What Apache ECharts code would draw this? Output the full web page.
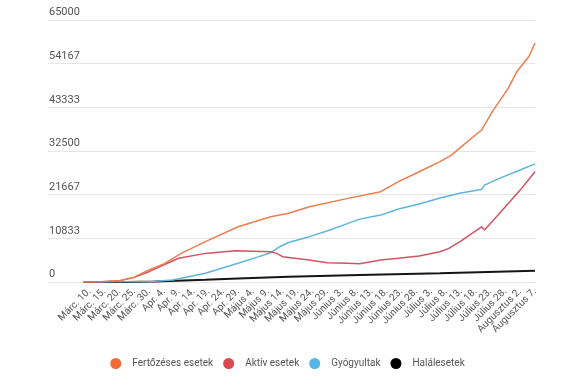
<!DOCTYPE html>
<html>
<head>
<meta charset="utf-8">
<script src="https://cdn.jsdelivr.net/npm/echarts@6/dist/echarts.min.js"></script>
<style>html,body{margin:0;padding:0;background:#fff}#c{width:575px;height:387px}</style>
</head>
<body>
<div id="c"></div>
<script>
// Month table used to build the daily category labels (Feb 25 – Aug 7)
const months = [['Febr.', 25, 29], ['Márc.', 1, 31], ['Apr.', 1, 30], ['Május', 1, 31], ['Június', 1, 30], ['Július', 1, 31], ['Augusztus', 1, 7]];
const categories = [];
months.forEach(([m, a, b]) => { for (let d = a; d <= b; d++) categories.push(m + ' ' + d + '.'); });

const yTicks = [0, 10833, 21667, 32500, 43333, 54167, 65000];
const seriesNames = ['Fertőzéses esetek', 'Aktív esetek', 'Gyógyultak', 'Halálesetek'];

const totalCases = [
  ['Márc. 8.', 0], ['Márc. 14.', 60], ['Márc. 20.', 300], ['Márc. 25.', 1200], ['Márc. 30.', 2980], ['Apr. 4.', 4500],
  ['Apr. 10.', 7150], ['Apr. 18.', 10000], ['Apr. 29.', 13700], ['Május 10.', 16200], ['Május 16.', 17050],
  ['Május 23.', 18650], ['Június 5.', 20750], ['Június 16.', 22400], ['Június 22.', 24900], ['Június 29.', 27350],
  ['Július 6.', 29850], ['Július 10.', 31550], ['Július 13.', 33450], ['Július 20.', 37700], ['Július 24.', 42700],
  ['Július 26.', 44800], ['Július 29.', 48100], ['Augusztus 1.', 52300], ['Augusztus 5.', 56000], ['Augusztus 7.', 59300]
];
const activeCases = [
  ['Márc. 8.', 0], ['Márc. 14.', 60], ['Márc. 20.', 280], ['Márc. 25.', 1150], ['Márc. 30.', 2560], ['Apr. 9.', 5880],
  ['Apr. 18.', 7100], ['Apr. 28.', 7770], ['Május 10.', 7500], ['Május 12.', 7100], ['Május 14.', 6280],
  ['Május 23.', 5450], ['Május 29.', 4800], ['Június 5.', 4650], ['Június 9.', 4550], ['Június 16.', 5450],
  ['Június 22.', 5880], ['Június 29.', 6450], ['Július 6.', 7500], ['Július 9.', 8350], ['Július 13.', 10150],
  ['Július 20.', 13700], ['Július 21.', 12900], ['Július 26.', 17000], ['Augusztus 2.', 22800], ['Augusztus 7.', 27350]
];
const recovered = [
  ['Márc. 8.', 0], ['Márc. 31.', 150], ['Apr. 7.', 500], ['Apr. 18.', 2150], ['Apr. 29.', 4650], ['Május 6.', 6300],
  ['Május 10.', 7250], ['Május 13.', 8750], ['Május 16.', 9800], ['Május 23.', 11250], ['Május 30.', 12900],
  ['Június 5.', 14550], ['Június 9.', 15600], ['Június 16.', 16600], ['Június 22.', 18100], ['Június 29.', 19350],
  ['Július 6.', 20850], ['Július 13.', 22100], ['Július 20.', 22950], ['Július 21.', 24050], ['Július 26.', 25700],
  ['Augusztus 2.', 27800], ['Augusztus 7.', 29300]
];
const deaths = [
  ['Márc. 8.', 0], ['Márc. 22.', 0], ['Apr. 1.', 100], ['Apr. 18.', 550], ['Apr. 29.', 850], ['Május 16.', 1300],
  ['Június 9.', 1750], ['Július 6.', 2150], ['Augusztus 7.', 2800]
];

const lineColors = ['#ec7d4e', '#cf5560', '#5db5da', '#151515'];
const iconColors = ['#f46a37', '#d9474f', '#52b6e6', '#000000'];
const allData = [totalCases, activeCases, recovered, deaths];
const firstLabel = categories.indexOf('Márc. 10.');

const chart = echarts.init(document.getElementById('c'), null, { renderer: 'canvas' });
chart.setOption({
  animation: false,
  backgroundColor: '#fff',
  textStyle: { fontFamily: 'Roboto' },
  grid: { left: 48, right: 40, top: 20, bottom: 105, containLabel: false },
  legend: {
    bottom: 13, left: 'center', icon: 'circle', itemWidth: 11, itemHeight: 11, itemGap: 10,
    textStyle: { color: '#555', fontSize: 10, fontFamily: 'Roboto', padding: [0, 0, 0, 6] },
    data: seriesNames
  },
  xAxis: {
    type: 'category', data: categories, boundaryGap: false,
    axisLine: { show: false }, axisTick: { show: false },
    axisLabel: {
      rotate: 45, fontSize: 10, color: '#555', margin: 8,
      interval: (i) => i >= firstLabel && (i - firstLabel) % 5 === 0
    }
  },
  yAxis: {
    type: 'value', min: 0, max: 65000, interval: 65000 / 6,
    axisLine: { show: false }, axisTick: { show: false },
    splitLine: { lineStyle: { color: '#e6e6e6', width: 1 } },
    axisLabel: {
      inside: true, margin: 1, verticalAlign: 'bottom', padding: [0, 0, 2, 0],
      fontSize: 11, color: '#555',
      formatter: (v) => String(yTicks.reduce((a, b) => Math.abs(b - v) < Math.abs(a - v) ? b : a))
    }
  },
  series: seriesNames.map((n, k) => ({
    name: n, type: 'line', data: allData[k], showSymbol: false, symbol: 'none',
    z: 10 - k,
    itemStyle: { color: iconColors[k] },
    lineStyle: { color: lineColors[k], width: k === 3 ? 2 : 1.5 }
  }))
});
</script>
</body>
</html>
